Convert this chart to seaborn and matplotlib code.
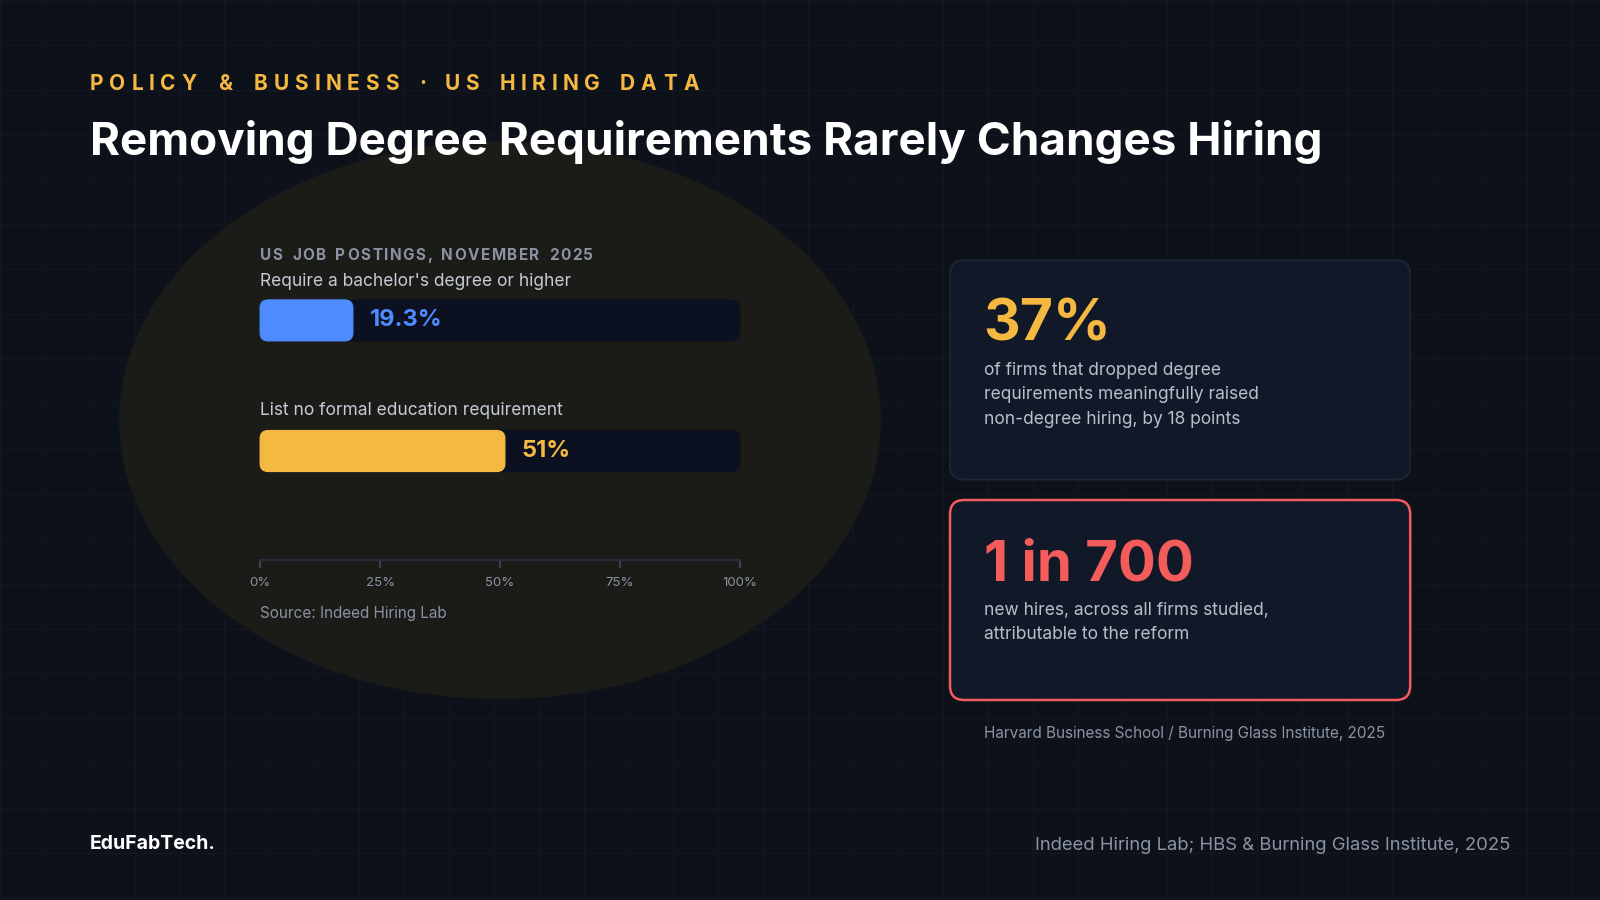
import matplotlib
matplotlib.use("Agg")
import matplotlib.pyplot as plt
from matplotlib.patches import FancyBboxPatch, Ellipse
from matplotlib.transforms import IdentityTransform
from matplotlib.textpath import TextPath
from matplotlib.font_manager import FontProperties
import seaborn as sns
import pandas as pd

# data
labels = ["Require a bachelor's degree or higher", "List no formal education requirement"]
shares = [19.3, 51]
bar_colors = ["#4d8bff", "#f5b942"]
value_labels = ["19.3%", "51%"]
ticks = [0, 25, 50, 75, 100]
tick_labels = ["0%", "25%", "50%", "75%", "100%"]

sns.set_theme(style="dark")
plt.rcParams['font.family'] = ['Inter', 'DejaVu Sans']

W, H = 1568, 882
BG = "#0d111a"
fig = plt.figure(figsize=(16, 9), dpi=100, facecolor=BG)
S = 1600 / W

# overlay axes in reference pixel coordinates
ov = fig.add_axes([0, 0, 1, 1])
ov.set_xlim(0, W)
ov.set_ylim(H, 0)
ov.axis("off")
ov.set_facecolor(BG)

# faint grid
for gx in range(0, W, 44):
    ov.axvline(gx, color="#141925", lw=0.6, zorder=0)
for gy in range(0, H, 44):
    ov.axhline(gy, color="#141925", lw=0.6, zorder=0)

ov.add_patch(Ellipse((490, 412), 745, 545, color="#1b1b18", zorder=1))


def spaced(x, y, s, size, color, spacing, weight="bold"):
    fp = FontProperties(family="Inter", weight=weight, size=size)
    cx = x
    for ch in s:
        ov.text(cx, y, ch, fontproperties=fp, color=color, va="baseline", ha="left", zorder=5)
        w = TextPath((0, 0), ch if ch != " " else "n", prop=fp).get_extents().width
        if ch == " ":
            w = size * 0.3
        # TextPath units are points; convert to reference px
        cx += (w * 100 / 72) / S + spacing


spaced(88, 88, "POLICY & BUSINESS · US HIRING DATA", 15, "#f5b942", 7.9)
ov.text(88, 152, "Removing Degree Requirements Rarely Changes Hiring", fontsize=33,
        fontweight="bold", color="white", va="baseline", zorder=5)

spaced(255, 255, "US JOB POSTINGS, NOVEMBER 2025", 11, "#8b93a3", 3.05)
ov.text(255, 280, labels[0], fontsize=12.5, color="#c5cbd6", va="baseline", zorder=5)
ov.text(255, 407, labels[1], fontsize=12.5, color="#c5cbd6", va="baseline", zorder=5)
ov.text(255, 606, "Source: Indeed Hiring Lab", fontsize=11, color="#8b93a3", va="baseline", zorder=5)

# bar chart axes: x 255..725, y 230..549 px
x0, x1, ytop, ybot = 255, 725, 230, 549
ax = fig.add_axes([x0 / W, 1 - ybot / H, (x1 - x0) / W, (ybot - ytop) / H])
ax.patch.set_alpha(0)
df = pd.DataFrame({"label": labels, "share": shares})
sns.barplot(data=df, y="label", x="share", hue="label", palette=bar_colors,
            orient="h", width=1.0, legend=False, ax=ax)
pxu = 128  # px per category step
ax.set_ylim(0 + (ybot - 314) / pxu, 0 - (314 - ytop) / pxu)
ax.set_xlim(0, 100)
ax.set_xticks(ticks)
ax.set_xticklabels(tick_labels, color="#8b93a3", fontsize=9.5)
ax.set_yticks([])
ax.set_xlabel("")
ax.set_ylabel("")
for sp in ["top", "right", "left"]:
    ax.spines[sp].set_visible(False)
ax.spines["bottom"].set_color("#262c3a")
ax.spines["bottom"].set_linewidth(1.5)
ax.tick_params(axis="x", colors="#3a4152", length=6, width=1.5, direction="out", pad=6,
               labelcolor="#8b93a3", bottom=True)
ax.grid(False)

fig.canvas.draw()
bar_h = 40 / pxu
for i, p in enumerate(list(ax.patches)):
    y = p.get_y() + (p.get_height() - bar_h) / 2
    # track
    (tx0, ty0) = ax.transData.transform((0, y + bar_h))
    (tx1, ty1) = ax.transData.transform((100, y))
    fig.add_artist(FancyBboxPatch((tx0, ty0), tx1 - tx0, ty1 - ty0,
                                  boxstyle="round,pad=0,rounding_size=8", color="#0b1120",
                                  transform=IdentityTransform(), zorder=2))
    (bx1, _) = ax.transData.transform((p.get_width(), y))
    fig.add_artist(FancyBboxPatch((tx0, ty0), bx1 - tx0, ty1 - ty0,
                                  boxstyle="round,pad=0,rounding_size=8", color=bar_colors[i],
                                  transform=IdentityTransform(), zorder=3))
    fig.text(p.get_width() + 3.5, y + bar_h / 2, value_labels[i], color=bar_colors[i],
             fontsize=17, fontweight="bold", va="center", ha="left", zorder=6,
             transform=ax.transData)
    p.set_visible(False)

# cards
ov.add_patch(FancyBboxPatch((931, 255), 451, 215, boxstyle="round,pad=0,rounding_size=14",
                            fc="#111827", ec="#1f2737", lw=1.2, zorder=3))
ov.add_patch(FancyBboxPatch((931, 490), 451, 196, boxstyle="round,pad=0,rounding_size=14",
                            fc="#111827", ec="#f45b5b", lw=1.8, zorder=3))
ov.text(964, 334, "37%", fontsize=41, fontweight="bold", color="#f5b942", va="baseline", zorder=5)
ov.text(964, 355, "of firms that dropped degree\nrequirements meaningfully raised\nnon-degree hiring, by 18 points",
        fontsize=12.5, color="#b8bfcc", va="top", linespacing=1.55, zorder=5)
ov.text(964, 569, "1 in 700", fontsize=40.5, fontweight="bold", color="#f45b5b", va="baseline", zorder=5)
ov.text(964, 590, "new hires, across all firms studied,\nattributable to the reform",
        fontsize=12.5, color="#b8bfcc", va="top", linespacing=1.55, zorder=5)
ov.text(964, 723, "Harvard Business School / Burning Glass Institute, 2025", fontsize=11,
        color="#8b93a3", va="baseline", zorder=5)

ov.text(88, 832, "EduFabTech.", fontsize=14, fontweight="bold", color="white", va="baseline", zorder=5)
ov.text(1480, 833, "Indeed Hiring Lab; HBS & Burning Glass Institute, 2025", fontsize=13.3,
        color="#8b93a3", va="baseline", ha="right", zorder=5)

fig.savefig("out.png", dpi=100, facecolor=BG)
